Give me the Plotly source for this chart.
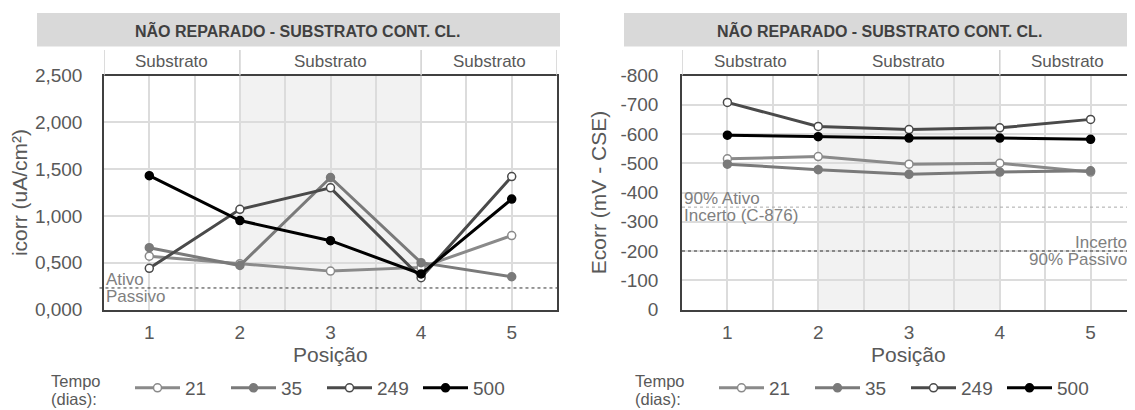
import plotly.graph_objects as go

# page body has an 8px default margin: figure occupies window pixels 8..1136 x 8..410
OFF = 8
W, H = 1128, 402

positions = [1, 2, 3, 4, 5]
series_names = ["21", "35", "249", "500"]

icorr_21 = [0.57, 0.49, 0.41, 0.45, 0.79]
icorr_35 = [0.66, 0.47, 1.41, 0.50, 0.35]
icorr_249 = [0.44, 1.07, 1.30, 0.34, 1.42]
icorr_500 = [1.43, 0.95, 0.735, 0.38, 1.18]

ecorr_21 = [-515, -523, -497, -500, -470]
ecorr_35 = [-497, -478, -462, -470, -474]
ecorr_249 = [-708, -626, -615, -621, -650]
ecorr_500 = [-596, -591, -586, -586, -582]

icorr_ticks = [0, 0.5, 1.0, 1.5, 2.0, 2.5]
icorr_ticktext = ["0,000", "0,500", "1,000", "1,500", "2,000", "2,500"]
ecorr_ticks = [0, -100, -200, -300, -400, -500, -600, -700, -800]
ecorr_ticktext = ["0", "-100", "-200", "-300", "-400", "-500", "-600", "-700", "-800"]

icorr_threshold = 0.23
ecorr_thresholds = [-350, -200]

title_text = "NÃO REPARADO - SUBSTRATO CONT. CL."
region_label = "Substrato"

colors = ["#8a8a8a", "#7a7a7a", "#4a4a4a", "#000000"]
marker_fill = ["white", "#7a7a7a", "white", "#000000"]

FONT = "Liberation Sans, Arial, sans-serif"
GRAY = "#595959"
LGRAY = "#808080"

def px_x(p):
    return (p - OFF) / W

def px_y(p):
    return 1 - (p - OFF) / H

fig = go.Figure()

left_vals = [icorr_21, icorr_35, icorr_249, icorr_500]
right_vals = [ecorr_21, ecorr_35, ecorr_249, ecorr_500]

for i, name in enumerate(series_names):
    fig.add_trace(go.Scatter(
        x=positions, y=left_vals[i], name=name, mode="lines+markers",
        line=dict(color=colors[i], width=3),
        marker=dict(size=8, color=marker_fill[i], line=dict(color=colors[i], width=1.5)),
        xaxis="x", yaxis="y", legend="legend",
    ))
for i, name in enumerate(series_names):
    fig.add_trace(go.Scatter(
        x=positions, y=right_vals[i], name=name, mode="lines+markers",
        line=dict(color=colors[i], width=3),
        marker=dict(size=8, color=marker_fill[i], line=dict(color=colors[i], width=1.5)),
        xaxis="x2", yaxis="y2", legend="legend2",
    ))

ydom = [px_y(309.5), px_y(75.5)]
xdom1 = [px_x(104), px_x(557)]
xdom2 = [px_x(682), 1.0]

common_x = dict(
    range=[0.5, 5.5], tickvals=positions, showgrid=True, gridcolor="#dcdcdc", gridwidth=1.5,
    minor=dict(tickvals=[1.5, 2.5, 3.5, 4.5], showgrid=True, gridcolor="#dcdcdc", gridwidth=1.5),
    showline=True, linecolor="#404040", linewidth=1.5, mirror=True, zeroline=False,
    tickfont=dict(size=19, color=GRAY, family=FONT), ticks="", ticklabelstandoff=5,
)

legend_common = dict(orientation="h", xanchor="left", yanchor="middle",
                     font=dict(size=19, color=GRAY, family=FONT), entrywidth=36, itemwidth=45,
                     bgcolor="rgba(0,0,0,0)", tracegroupgap=0)

fig.update_layout(
    width=W, height=H, margin=dict(l=0, r=0, t=0, b=0, autoexpand=False),
    paper_bgcolor="white", plot_bgcolor="white",
    font=dict(family=FONT, color=GRAY),
    xaxis=dict(domain=xdom1, anchor="y", **common_x),
    xaxis2=dict(domain=xdom2, anchor="y2", **common_x),
    yaxis=dict(domain=ydom, anchor="x", range=[0, 2.5], tickvals=icorr_ticks, ticktext=icorr_ticktext,
               showgrid=True, gridcolor="#dcdcdc", gridwidth=1.5, zeroline=False,
               showline=True, linecolor="#404040", linewidth=1.5, mirror=True,
               tickfont=dict(size=19, color=GRAY, family=FONT), ticks="", ticklabelstandoff=16,
               title=dict(text="icorr (uA/cm²)", font=dict(size=21, color=GRAY, family=FONT), standoff=8)),
    yaxis2=dict(domain=ydom, anchor="x2", range=[0, -800], tickvals=ecorr_ticks, ticktext=ecorr_ticktext,
                showgrid=True, gridcolor="#dcdcdc", gridwidth=1.5, zeroline=False,
                showline=True, linecolor="#404040", linewidth=1.5, mirror=True,
                tickfont=dict(size=19, color=GRAY, family=FONT), ticks="", ticklabelstandoff=18,
                title=dict(text="Ecorr (mV - CSE)", font=dict(size=21, color=GRAY, family=FONT), standoff=8)),
    legend=dict(x=px_x(130), y=px_y(388), **legend_common),
    legend2=dict(x=px_x(714), y=px_y(388), **legend_common),
)

shapes = []
annotations = []
for xa, ya, band, leg_x in [("x", "y", (37, 560), 49), ("x2", "y2", (624, 1136), 633)]:
    # shaded middle region
    shapes.append(dict(type="rect", xref=xa, yref=ya + " domain", x0=2, x1=4, y0=0, y1=1,
                       fillcolor="#f2f2f2", line=dict(width=0), layer="below"))
    # title band
    shapes.append(dict(type="rect", xref="paper", yref="paper", x0=px_x(band[0]), x1=min(1.0, px_x(band[1])),
                       y0=px_y(46.5), y1=px_y(13), fillcolor="#d9d9d9", line=dict(width=0)))
    annotations.append(dict(text="<b>" + title_text + "</b>", xref="paper", yref="paper",
                            x=px_x((band[0] + band[1]) / 2 - 1), y=px_y(30.5), xanchor="center", yanchor="middle",
                            showarrow=False, font=dict(size=16, color="#404040", family=FONT)))
    # header row dividers
    for xv in [0.5, 2, 4, 5.5]:
        shapes.append(dict(type="line", xref=xa, yref="paper", x0=xv, x1=xv, y0=px_y(75.5), y1=px_y(50),
                           line=dict(color="#d0d0d0", width=1.5)))
    for xv in [1.25, 3, 4.75]:
        annotations.append(dict(text=region_label, xref=xa, yref="paper", x=xv, y=px_y(62),
                                xanchor="center", yanchor="middle",
                                showarrow=False, font=dict(size=17, color=GRAY, family=FONT)))
    # x axis title
    annotations.append(dict(text="Posição", xref=xa + " domain", yref="paper", x=0.5, y=px_y(354),
                            xanchor="center", yanchor="middle", showarrow=False,
                            font=dict(size=21, color=GRAY, family=FONT)))
    # legend title
    annotations.append(dict(text="Tempo", xref="paper", yref="paper", x=px_x(leg_x), y=px_y(381),
                            xanchor="left", yanchor="middle", showarrow=False,
                            font=dict(size=16.5, color=GRAY, family=FONT)))
    annotations.append(dict(text="(dias):", xref="paper", yref="paper", x=px_x(leg_x), y=px_y(399),
                            xanchor="left", yanchor="middle", showarrow=False,
                            font=dict(size=16.5, color=GRAY, family=FONT)))

# thresholds
shapes.append(dict(type="line", xref="x domain", yref="y", x0=-0.01, x1=1, y0=icorr_threshold, y1=icorr_threshold,
                   line=dict(color="#333333", width=1, dash="dot")))
annotations.append(dict(text="Ativo", xref="x domain", yref="y", x=0.0, y=icorr_threshold, xanchor="left",
                        yanchor="bottom", showarrow=False, yshift=-3, font=dict(size=17, color=LGRAY, family=FONT)))
annotations.append(dict(text="Passivo", xref="x domain", yref="y", x=0.0, y=icorr_threshold, xanchor="left",
                        yanchor="top", showarrow=False, yshift=3, font=dict(size=17, color=LGRAY, family=FONT)))

shapes.append(dict(type="line", xref="x2 domain", yref="y2", x0=0, x1=1, y0=ecorr_thresholds[0], y1=ecorr_thresholds[0],
                   line=dict(color="#aaaaaa", width=1, dash="dot")))
shapes.append(dict(type="line", xref="x2 domain", yref="y2", x0=0, x1=1, y0=ecorr_thresholds[1], y1=ecorr_thresholds[1],
                   line=dict(color="#333333", width=1, dash="dot")))
annotations.append(dict(text="90% Ativo", xref="x2 domain", yref="y2", x=0.0, y=ecorr_thresholds[0], xanchor="left",
                        yanchor="bottom", showarrow=False, yshift=-3, font=dict(size=17, color=LGRAY, family=FONT)))
annotations.append(dict(text="Incerto (C-876)", xref="x2 domain", yref="y2", x=0.0, y=ecorr_thresholds[0], xanchor="left",
                        yanchor="top", showarrow=False, yshift=3, font=dict(size=17, color=LGRAY, family=FONT)))
annotations.append(dict(text="Incerto", xref="x2 domain", yref="y2", x=0.984, y=ecorr_thresholds[1], xanchor="right",
                        yanchor="bottom", showarrow=False, yshift=-3, font=dict(size=17, color=LGRAY, family=FONT)))
annotations.append(dict(text="90% Passivo", xref="x2 domain", yref="y2", x=0.984, y=ecorr_thresholds[1], xanchor="right",
                        yanchor="top", showarrow=False, yshift=3, font=dict(size=17, color=LGRAY, family=FONT)))

fig.update_layout(shapes=shapes, annotations=annotations)
fig.write_html("out.html")
